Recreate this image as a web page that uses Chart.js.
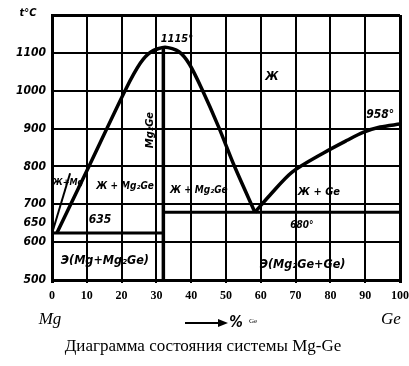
<!DOCTYPE html>
<html lang="ru">
<head>
  <meta charset="utf-8">
  <script src="https://cdn.jsdelivr.net/npm/chart.js@4.4.0/dist/chart.umd.min.js"></script>
  <style>
    body { margin: 0; background: #fff; }
    #wrap { width: 409px; height: 366px; }
  </style>
</head>
<body>
  <div id="wrap"><canvas id="chart" width="409" height="366"></canvas></div>

  <script>
    // Mg-Ge phase diagram (% Ge, t °C)
    const xTicks = [0, 10, 20, 30, 40, 50, 60, 70, 80, 90, 100];
    const yTicks = [500, 600, 650, 700, 800, 900, 1000, 1100, 1200];

    // liquidus on the Mg side (thin line of the Ж+Mg wedge)
    const liqMgX = [0.3, 5.2];
    const liqMgT = [632, 782];

    // liquidus of Mg2Ge (both branches, peak 1115°)
    const liqMg2GeX = [1.4, 10.6, 21.2, 25.4, 28.5, 32.5, 36.5, 39.5, 43.1, 47.9, 52.4, 58.3];
    const liqMg2GeT = [624, 800, 1004, 1073, 1103, 1115, 1103, 1070, 1004, 904, 801, 679];

    // liquidus of Ge (to 958°)
    const liqGeX = [58.3, 62.6, 69, 77.9, 84.8, 89.4, 94.3, 100];
    const liqGeT = [679, 724, 785, 835, 869, 890, 904, 912];

    // eutectic horizontals and the Mg2Ge compound line
    const eutMgX = [0, 32];
    const eutMgT = [624, 624];
    const eutGeX = [32, 100];
    const eutGeT = [679, 679];
    const mg2geX = [32, 32];
    const mg2geT = [1115, 500];

    // region labels
    const labels = [
      { text: '1115°', x: 35.9, y: 1136, size: 11 },
      { text: 'Ж', x: 63.2, y: 1036, size: 12 },
      { text: '958°', x: 94.3, y: 935, size: 12 },
      { text: 'Mg₂Ge', x: 28.2, y: 896, size: 11, rot: true },
      { text: 'Ж+Mg', x: 4.6, y: 756, size: 9 },
      { text: 'Ж + Mg₂Ge', x: 21, y: 748, size: 10 },
      { text: 'Ж + Mg₂Ge', x: 42.2, y: 737, size: 10 },
      { text: 'Ж + Ge', x: 76.7, y: 732, size: 11 },
      { text: '635', x: 13.8, y: 658, size: 12 },
      { text: '680°', x: 71.8, y: 645, size: 10 },
      { text: 'Э(Mg+Mg₂Ge)', x: 15.2, y: 550, size: 12.5 },
      { text: 'Э(Mg₂Ge+Ge)', x: 72, y: 540, size: 12.5 }
    ];

    function pts(xs, ys) {
      return xs.map((x, i) => ({ x: x, y: ys[i] }));
    }

    function line(xs, ys, w, tension) {
      return {
        data: pts(xs, ys),
        showLine: true,
        borderColor: '#000',
        borderWidth: w,
        pointRadius: 0,
        fill: false,
        tension: tension || 0
      };
    }

    const labelFont = '"DejaVu Sans Condensed", "DejaVu Sans", sans-serif';

    const textPlugin = {
      id: 'texts',
      afterDraw(chart) {
        const ctx = chart.ctx;
        const xs = chart.scales.x, ys = chart.scales.y;
        ctx.save();
        ctx.fillStyle = '#000';
        ctx.textAlign = 'center';
        ctx.textBaseline = 'middle';
        labels.forEach(l => {
          ctx.font = 'bold italic ' + l.size + 'px ' + labelFont;
          const px = xs.getPixelForValue(l.x), py = ys.getPixelForValue(l.y);
          if (l.rot) {
            ctx.save();
            ctx.translate(px, py);
            ctx.rotate(-Math.PI / 2);
            ctx.fillText(l.text, 0, 0);
            ctx.restore();
          } else {
            ctx.fillText(l.text, px, py);
          }
        });

        // axis captions
        ctx.font = 'bold italic 11px ' + labelFont;
        ctx.fillText('t°C', 28, 13);

        ctx.font = 'italic 17px "Liberation Serif", serif';
        ctx.fillText('Mg', 50, 320);
        ctx.fillText('Ge', 391, 320);

        // arrow  ——► % Ge
        ctx.lineWidth = 2;
        ctx.beginPath();
        ctx.moveTo(185, 323);
        ctx.lineTo(220, 323);
        ctx.stroke();
        ctx.beginPath();
        ctx.moveTo(228, 323);
        ctx.lineTo(218, 319);
        ctx.lineTo(218, 327);
        ctx.closePath();
        ctx.fill();
        ctx.font = 'bold italic 15px ' + labelFont;
        ctx.fillText('%', 236, 323);
        ctx.font = '7px "Liberation Serif", serif';
        ctx.fillText('Ge', 253, 321);

        ctx.font = '17px "Liberation Serif", serif';
        ctx.fillText('Диаграмма состояния системы Mg-Ge', 203, 347);
        ctx.restore();
      }
    };

    const edge = (v, lo, hi) => (v === lo || v === hi) ? 3 : 2;

    new Chart(document.getElementById('chart'), {
      type: 'scatter',
      data: {
        datasets: [
          line(liqMgX, liqMgT, 2),
          line(liqMg2GeX, liqMg2GeT, 3.5, 0.25),
          line(liqGeX, liqGeT, 3.5, 0.3),
          line(eutMgX, eutMgT, 3),
          line(eutGeX, eutGeT, 3),
          line(mg2geX, mg2geT, 3.5)
        ]
      },
      options: {
        responsive: false,
        animation: false,
        devicePixelRatio: 1,
        layout: { padding: { left: 0, top: 15, right: 9, bottom: 61 } },
        plugins: { legend: { display: false }, tooltip: { enabled: false } },
        scales: {
          x: {
            type: 'linear',
            min: 0,
            max: 100,
            afterBuildTicks: s => { s.ticks = xTicks.map(v => ({ value: v })); },
            afterFit: s => { s.height = 25; s.paddingLeft = 0; s.paddingRight = 0; },
            border: { display: true, color: '#000', width: 3 },
            grid: {
              color: '#000',
              lineWidth: c => edge(c.tick && c.tick.value, 0, 100),
              tickLength: 3
            },
            ticks: {
              color: '#000',
              padding: 6,
              maxRotation: 0,
              font: { family: '"Liberation Serif", serif', size: 12, weight: 'bold' }
            }
          },
          y: {
            type: 'linear',
            min: 500,
            max: 1200,
            afterBuildTicks: s => { s.ticks = yTicks.map(v => ({ value: v })); },
            afterFit: s => { s.width = 52; s.paddingTop = 0; s.paddingBottom = 0; },
            border: { display: true, color: '#000', width: 3 },
            grid: {
              color: c => (c.tick && c.tick.value === 650) ? 'rgba(0,0,0,0)' : '#000',
              lineWidth: c => edge(c.tick && c.tick.value, 500, 1200),
              drawTicks: false
            },
            ticks: {
              color: '#000',
              padding: 6,
              font: { family: labelFont, size: 12, weight: 'bold', style: 'italic' },
              callback: v => v === 1200 ? '' : v
            }
          }
        }
      },
      plugins: [textPlugin]
    });
  </script>
</body>
</html>
